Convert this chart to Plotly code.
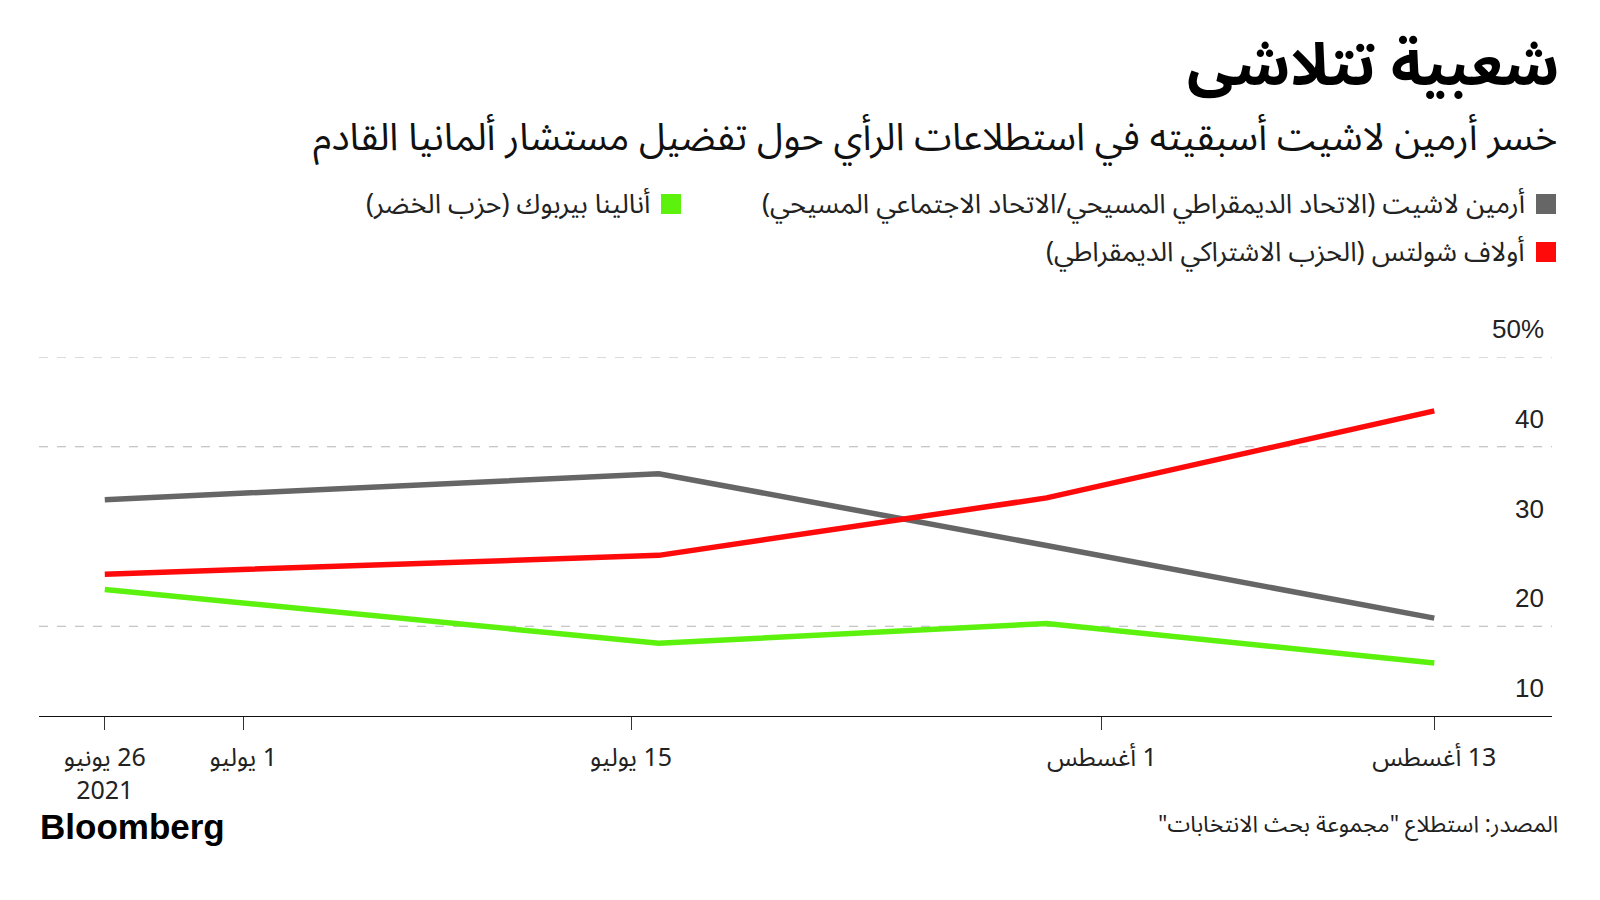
import plotly.graph_objects as go

# ---------------- data ----------------
dates = ["2021-06-26", "2021-07-16", "2021-07-30", "2021-08-13"]
laschet = [34.1, 37.0, 29.0, 20.9]
scholz = [25.8, 27.9, 34.3, 44.0]
baerbock = [24.1, 18.1, 20.3, 15.9]

series_names = [
    "أرمين لاشيت (الاتحاد الديمقراطي المسيحي/الاتحاد الاجتماعي المسيحي)",
    "أولاف شولتس (الحزب الاشتراكي الديمقراطي)",
    "أنالينا بيربوك (حزب الخضر)",
]
series_colors = ["#666666", "#ff0a0a", "#5cf20e"]

xtick_dates = ["2021-06-26", "2021-07-01", "2021-07-15", "2021-08-01", "2021-08-13"]
xtick_labels = ["26 يونيو|2021", "1 يوليو", "15 يوليو", "1 أغسطس", "13 أغسطس"]
ytick_values = [10, 20, 30, 40, 50]
ytick_labels = ["10", "20", "30", "40", "50%"]
grid_values = [20, 40, 50]

title = "شعبية تتلاشى"
subtitle = "خسر أرمين لاشيت أسبقيته في استطلاعات الرأي حول تفضيل مستشار ألمانيا القادم"
source = 'المصدر: استطلاع "مجموعة بحث الانتخابات"'

RLM = "\u200f"
def rtl(s):
    return RLM + s + RLM

AR_FONT = "Noto Sans Arabic, DejaVu Sans, sans-serif"
NUM_FONT = "Liberation Sans, Arial, sans-serif"

# ---------------- layout geometry (pixels) ----------------
W, H = 1600, 900
L, R, T, B = 39, 1552, 357, 716

def px(x):
    return (x - L) / (R - L)

def py(y):
    return (B - y) / (B - T)

fig = go.Figure()
for vals, name, col in zip([laschet, scholz, baerbock], series_names, series_colors):
    fig.add_trace(go.Scatter(x=dates, y=vals, mode="lines", name=name,
                             line=dict(color=col, width=5.5), showlegend=False))

fig.update_layout(
    width=W, height=H, autosize=False,
    paper_bgcolor="white", plot_bgcolor="white",
    margin=dict(l=L, r=W - R, t=T, b=H - B, pad=0),
    font=dict(family=NUM_FONT, color="#222"),
    xaxis=dict(
        type="date",
        range=["2021-06-23 15:00", "2021-08-17 06:00"],
        tickvals=xtick_dates,
        ticktext=["<br>".join(rtl(p) for p in t.split("|")) for t in xtick_labels],
        ticks="outside", ticklen=13, tickcolor="#333", tickwidth=1,
        tickfont=dict(family=AR_FONT, size=25, color="#222"),
        ticklabelstandoff=6,
        showline=True, linecolor="#111", linewidth=1.2,
        showgrid=False, zeroline=False,
    ),
    yaxis=dict(
        range=[10, 50],
        showticklabels=False, ticks="",
        showgrid=False, zeroline=False, showline=False,
    ),
)

shapes = []
# dashed gridlines
for g in grid_values:
    shapes.append(dict(type="line", xref="paper", yref="y", x0=0, x1=1, y0=g, y1=g,
                       line=dict(color="#b5b5b5", width=1, dash="dash"), layer="below"))

ann = []
# y tick labels (above gridlines, right side)
for v, lab in zip(ytick_values, ytick_labels):
    ann.append(dict(x=1, xref="paper", y=v, yref="y", text=lab, showarrow=False,
                    xanchor="right", yanchor="middle", xshift=-6, yshift=28,
                    font=dict(family=NUM_FONT, size=26, color="#222")))

# title & subtitle
ann.append(dict(x=px(1561), y=py(66), xref="paper", yref="paper", text="<b>" + rtl(title) + "</b>",
                showarrow=False, xanchor="right", yanchor="middle",
                font=dict(family=AR_FONT, size=59, color="#000")))
ann.append(dict(x=px(1559), y=py(138), xref="paper", yref="paper", text=rtl(subtitle),
                showarrow=False, xanchor="right", yanchor="middle",
                font=dict(family=AR_FONT, size=38, color="#111")))

# legend (squares + text)
legend_items = [
    (0, 1556, 204),
    (1, 1556, 252),
    (2, 681, 204),
]
for idx, xr, yc in legend_items:
    shapes.append(dict(type="rect", xref="paper", yref="paper",
                       x0=px(xr - 20), x1=px(xr), y0=py(yc + 10), y1=py(yc - 10),
                       fillcolor=series_colors[idx], line=dict(width=0)))
    ann.append(dict(x=px(xr - 29), y=py(yc), xref="paper", yref="paper",
                    text=rtl(series_names[idx]), showarrow=False,
                    xanchor="right", yanchor="middle",
                    font=dict(family=AR_FONT, size=27, color="#222")))

# footer
ann.append(dict(x=px(38), y=py(826), xref="paper", yref="paper", text="<b>Bloomberg</b>",
                showarrow=False, xanchor="left", yanchor="middle",
                font=dict(family=NUM_FONT, size=35, color="#000")))
ann.append(dict(x=px(1560), y=py(824), xref="paper", yref="paper", text=rtl(source),
                showarrow=False, xanchor="right", yanchor="middle",
                font=dict(family=AR_FONT, size=23, color="#222")))

fig.update_layout(annotations=ann, shapes=shapes)
fig.write_html("out.html", config={"displayModeBar": False},
               post_script="document.body.style.margin='0px';")
